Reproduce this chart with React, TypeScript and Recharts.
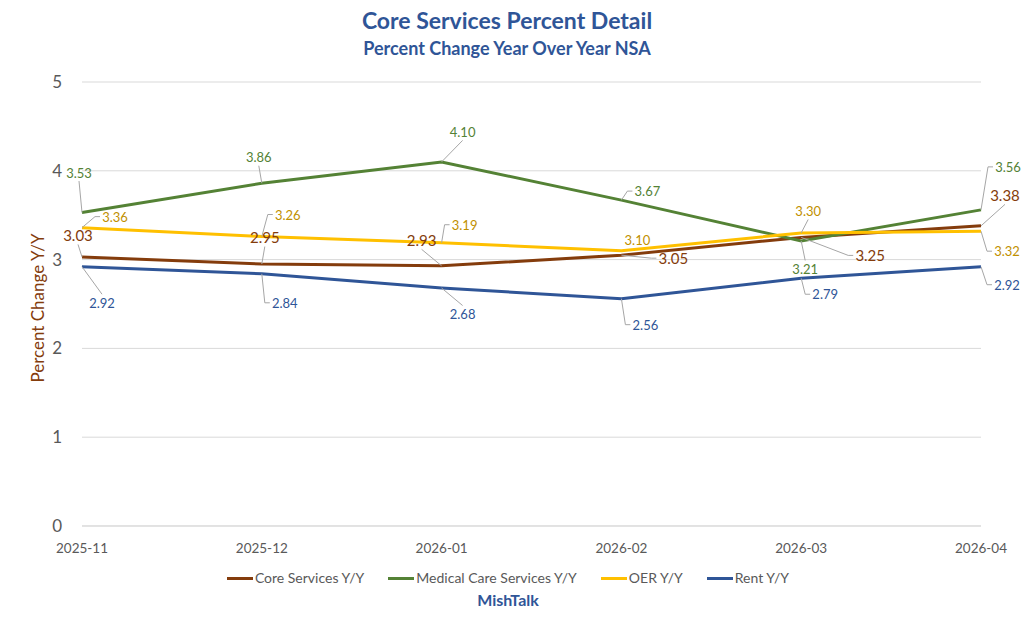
import { LineChart, Line, XAxis, YAxis, CartesianGrid, LabelList } from 'recharts'

const months = ['2025-11', '2025-12', '2026-01', '2026-02', '2026-03', '2026-04']
const coreServices = [3.03, 2.95, 2.93, 3.05, 3.25, 3.38]
const medicalCare = [3.53, 3.86, 4.10, 3.67, 3.21, 3.56]
const oer = [3.36, 3.26, 3.19, 3.10, 3.30, 3.32]
const rent = [2.92, 2.84, 2.68, 2.56, 2.79, 2.92]
const yTicks = [0, 1, 2, 3, 4, 5]

const data = months.map((m, i) => ({
  month: m,
  core: coreServices[i],
  medical: medicalCare[i],
  oer: oer[i],
  rent: rent[i],
}))

// label placement, px from the point: [dx, dy, leader] ('v' = to label edge, 'l' = elbow, 'n' = none)
type Place = [number, number, string]
const corePlace: Place[] = [[-4, -22, 'v'], [3, -27, 'v'], [-20, -26, 'v'], [52, 3, 'l'], [69, 18, 'l'], [24, -31, 'v']]
const medicalPlace: Place[] = [[-3, -40, 'v'], [-3, -26, 'v'], [21, -30, 'v'], [26, -9, 'l'], [4, 28, 'v'], [27, -43, 'l']]
const oerPlace: Place[] = [[33, -11, 'l'], [26, -22, 'l'], [23, -18, 'l'], [16, -11, 'n'], [7, -22, 'v'], [26, 20, 'l']]
const rentPlace: Place[] = [[20, 36, 'v'], [23, 29, 'l'], [21, 26, 'v'], [24, 26, 'l'], [24, 16, 'l'], [26, 18, 'l']]

const FONT = 'Lato, "Open Sans", sans-serif'
const GREY = '#595959'
const LEADER = '#a6a6a6'

const series = [
  { key: 'core', name: 'Core Services Y/Y', stroke: '#843c0c', text: '#843c0c', size: 15, place: corePlace },
  { key: 'medical', name: 'Medical Care Services Y/Y', stroke: '#548235', text: '#548235', size: 13, place: medicalPlace },
  { key: 'oer', name: 'OER Y/Y', stroke: '#ffc000', text: '#bf9000', size: 13, place: oerPlace },
  { key: 'rent', name: 'Rent Y/Y', stroke: '#2f5597', text: '#2f5597', size: 13, place: rentPlace },
]

function makeLabel(place: Place[], color: string, size: number) {
  return (props: any) => {
    const x = props.x ?? props.viewBox?.x
    const y = props.y ?? props.viewBox?.y
    const idx = props.index
    if (x == null || y == null || place[idx] == null) return null
    const [dx, dy, kind] = place[idx]
    const lx = x + dx
    const ly = y + dy
    const halfW = size * 1.0 + 2
    const halfH = size * 0.5 + 2
    let d = ''
    if (kind === 'v') {
      const ey = dy < 0 ? ly + halfH : ly - halfH
      d = `M${x},${y}L${lx},${ey}`
    } else if (kind === 'l') {
      const ex = dx > 0 ? lx - halfW : lx + halfW
      const kx = dx > 0 ? ex - 5 : ex + 5
      d = `M${x},${y}L${kx},${ly}L${ex},${ly}`
    }
    return (
      <g>
        {d && <path d={d} stroke={LEADER} strokeWidth={1} fill="none" />}
        <text x={lx} y={ly} textAnchor="middle" dominantBaseline="central"
          fill={color} fontSize={size} fontFamily={FONT}>
          {Number(props.value).toFixed(2)}
        </text>
      </g>
    )
  }
}

export default function App() {
  return (
    <div style={{ position: 'absolute', left: 0, top: 0, width: 1024, height: 635, background: '#fff', fontFamily: FONT }}>
      <div style={{ position: 'absolute', top: 6, left: 0, width: 1014, textAlign: 'center', color: '#2f5597', fontWeight: 700, fontSize: 23, lineHeight: '28px' }}>
        Core Services Percent Detail
      </div>
      <div style={{ position: 'absolute', top: 37, left: 0, width: 1014, textAlign: 'center', color: '#2f5597', fontWeight: 700, fontSize: 18, lineHeight: '22px' }}>
        Percent Change Year Over Year NSA
      </div>

      <LineChart width={1024} height={635} data={data} margin={{ top: 82, right: 43, bottom: 79, left: 42 }}>
        <CartesianGrid vertical={false} stroke="#d9d9d9" />
        <XAxis dataKey="month" height={30} axisLine={{ stroke: '#d9d9d9' }} tickLine={false} tickSize={0} tickMargin={17}
          tick={{ fill: GREY, fontSize: 13.5, fontFamily: FONT }} interval={0} />
        <YAxis domain={[0, 5]} ticks={yTicks} width={40} axisLine={false} tickLine={false} tickSize={0} tickMargin={20}
          tick={{ fill: GREY, fontSize: 17, fontFamily: FONT }}
          label={{
            content: (p: any) => {
              const vb = p.viewBox || { x: 42, y: 82, height: 444 }
              const cx = vb.x - 5
              const cy = vb.y + vb.height / 2 + 4
              return (
                <text x={cx} y={cy} transform={`rotate(-90 ${cx} ${cy})`} textAnchor="middle"
                  dominantBaseline="central" fill="#843c0c" fontSize={17} fontFamily={FONT}>
                  Percent Change Y/Y
                </text>
              )
            },
          }} />
        {series.map(s => (
          <Line key={s.key} dataKey={s.key} name={s.name} stroke={s.stroke} strokeWidth={3}
            dot={false} activeDot={false} isAnimationActive={false} type="linear">
            <LabelList dataKey={s.key} content={makeLabel(s.place, s.text, s.size)} />
          </Line>
        ))}
      </LineChart>

      <div style={{ position: 'absolute', top: 568, left: 0, width: 1016, display: 'flex', justifyContent: 'center', gap: 24, fontSize: 14, color: GREY, lineHeight: '20px' }}>
        {series.map(s => (
          <div key={s.key} style={{ display: 'flex', alignItems: 'center' }}>
            <div style={{ width: 26, height: 3, background: s.stroke, marginRight: 2 }} />
            <span>{s.name}</span>
          </div>
        ))}
      </div>
      <div style={{ position: 'absolute', top: 589, left: 0, width: 1016, textAlign: 'center', color: '#2f5597', fontWeight: 700, fontSize: 16, lineHeight: '22px' }}>
        MishTalk
      </div>
    </div>
  )
}
